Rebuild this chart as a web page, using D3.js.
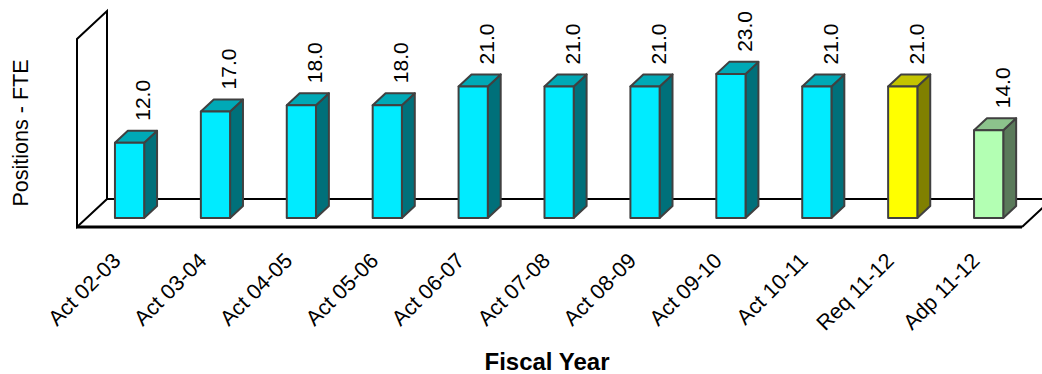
<!DOCTYPE html>
<html>
<head>
<meta charset="utf-8">
<script src="https://cdn.jsdelivr.net/npm/d3@7/dist/d3.min.js"></script>
<style>
  html, body { margin: 0; padding: 0; background: #fff; }
  svg { display: block; font-family: Arial, "Liberation Sans", sans-serif; }
</style>
</head>
<body>
<svg id="chart" width="1042" height="374"></svg>
<script>
// Fiscal years and FTE positions
const categories = ["Act 02-03", "Act 03-04", "Act 04-05", "Act 05-06", "Act 06-07",
                    "Act 07-08", "Act 08-09", "Act 09-10", "Act 10-11", "Req 11-12", "Adp 11-12"];
const values = [12, 17, 18, 18, 21, 21, 21, 23, 21, 21, 14];
const valueLabels = ["12.0", "17.0", "18.0", "18.0", "21.0", "21.0", "21.0", "23.0", "21.0", "21.0", "14.0"];
const yDomain = [0, 30];
const yTitle = "Positions - FTE";
const xTitle = "Fiscal Year";

// face colours per bar kind: front, top, side
const palette = {
  Act: ["#00EBFF", "#00A9B6", "#00707A"],
  Req: ["#FFFF00", "#C4C400", "#808000"],
  Adp: ["#B3FFB3", "#8CC38C", "#5A7A5A"]
};

const svg = d3.select("#chart");

// floor front-left corner and the depth vector of the 3D box
const x0 = 77, x1 = 1022, floorY = 227;
const depth = { dx: 30, dy: -28 };

const x = d3.scaleBand().domain(categories).range([x0, x1]).padding(0);
const y = d3.scaleLinear().domain(yDomain).range([floorY, 39]);

const line = (pts) => "M" + pts.map(p => p.join(",")).join("L");

// left wall
svg.append("path")
  .attr("d", line([[x0, floorY], [x0, y(yDomain[1])],
                   [x0 + depth.dx, y(yDomain[1]) + depth.dy],
                   [x0 + depth.dx, floorY + depth.dy]]) + "Z")
  .attr("fill", "none").attr("stroke", "#000").attr("stroke-width", 2);

// floor
svg.append("path")
  .attr("d", line([[x0 + depth.dx, floorY + depth.dy], [x1 + depth.dx, floorY + depth.dy],
                   [x1, floorY]]))
  .attr("fill", "none").attr("stroke", "#000").attr("stroke-width", 2);
svg.append("line")
  .attr("x1", x0).attr("x2", x1).attr("y1", floorY).attr("y2", floorY)
  .attr("stroke", "#000").attr("stroke-width", 3);

// bars: front face sits a third of the way into the floor depth
const frontT = 0.32, barT = 0.43;
const fx = depth.dx * frontT, fy = depth.dy * frontT;
const bx = depth.dx * barT, by = depth.dy * barT;
const bw = x.bandwidth() * 0.34;

const bars = svg.append("g").selectAll("g")
  .data(categories.map((c, i) => ({ c, v: values[i], label: valueLabels[i], kind: c.split(" ")[0] })))
  .join("g");

bars.each(function (d) {
  const g = d3.select(this);
  const cx = x(d.c) + x.bandwidth() / 2 + fx;
  const left = cx - bw / 2, right = cx + bw / 2;
  const bottom = y(0) + fy, top = y(d.v) + fy;
  const [cf, ct, cs] = palette[d.kind];
  const stroke = { stroke: "#404040", "stroke-width": 2, "stroke-linejoin": "round" };

  const face = (pts, fill) => {
    const p = g.append("path").attr("d", line(pts) + "Z").attr("fill", fill);
    Object.entries(stroke).forEach(([k, v]) => p.attr(k, v));
  };
  // side
  face([[right, bottom], [right, top], [right + bx, top + by], [right + bx, bottom + by]], cs);
  // top
  face([[left, top], [right, top], [right + bx, top + by], [left + bx, top + by]], ct);
  // front
  face([[left, bottom], [left, top], [right, top], [right, bottom]], cf);

  // value label, rotated, above the top face
  const lx = cx + bx + 8, ly = top + by - 10;
  g.append("text")
    .attr("transform", `translate(${lx},${ly}) rotate(-90)`)
    .attr("font-size", 21)
    .attr("fill", "#000")
    .text(d.label);
});

// category labels
svg.append("g").selectAll("text")
  .data(categories)
  .join("text")
  .attr("transform", d => `translate(${x(d) + x.bandwidth() / 2 + 2},${262}) rotate(-45)`)
  .attr("text-anchor", "end")
  .attr("font-size", 21.5)
  .attr("fill", "#000")
  .text(d => d);

// axis titles
svg.append("text")
  .attr("transform", `translate(28,133) rotate(-90)`)
  .attr("text-anchor", "middle")
  .attr("font-size", 21.5)
  .text(yTitle);

svg.append("text")
  .attr("x", 547).attr("y", 370)
  .attr("text-anchor", "middle")
  .attr("font-size", 24)
  .attr("font-weight", "bold")
  .text(xTitle);
</script>
</body>
</html>
